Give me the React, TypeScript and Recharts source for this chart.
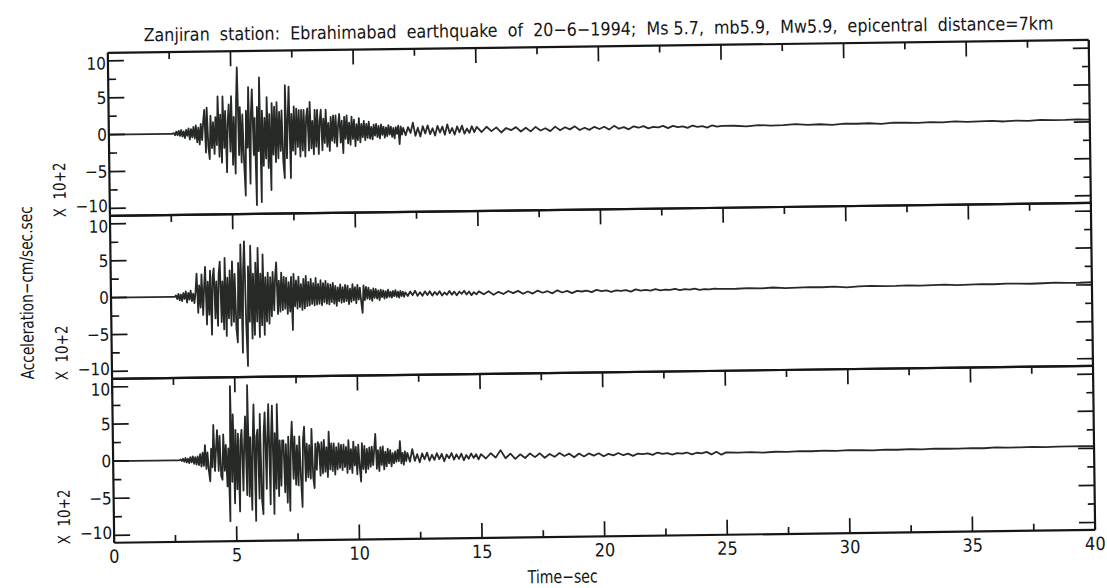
import React from 'react';
import { LineChart, Line, XAxis, YAxis } from 'recharts';

// ---- sample times (s) ----
const TIME_STRONG = [
  0,
  2.5, 2.55, 2.6, 2.65, 2.7, 2.75, 2.8, 2.85, 2.9, 2.95, 3, 3.05, 3.1, 3.15, 3.2, 3.25, 3.3, 3.35, 3.4, 3.45,
  3.5, 3.55, 3.6, 3.65, 3.7, 3.75, 3.8, 3.85, 3.9, 3.95, 4, 4.05, 4.1, 4.15, 4.2, 4.25, 4.3, 4.35, 4.4, 4.45,
  4.5, 4.55, 4.6, 4.65, 4.7, 4.75, 4.8, 4.85, 4.9, 4.95, 5, 5.05, 5.1, 5.15, 5.2, 5.25, 5.3, 5.35, 5.4, 5.45,
  5.5, 5.55, 5.6, 5.65, 5.7, 5.75, 5.8, 5.85, 5.9, 5.95, 6, 6.05, 6.1, 6.15, 6.2, 6.25, 6.3, 6.35, 6.4, 6.45,
  6.5, 6.55, 6.6, 6.65, 6.7, 6.75, 6.8, 6.85, 6.9, 6.95, 7, 7.05, 7.1, 7.15, 7.2, 7.25, 7.3, 7.35, 7.4, 7.45,
  7.5, 7.55, 7.6, 7.65, 7.7, 7.75, 7.8, 7.85, 7.9, 7.95, 8, 8.05, 8.1, 8.15, 8.2, 8.25, 8.3, 8.35, 8.4, 8.45,
  8.5, 8.55, 8.6, 8.65, 8.7, 8.75, 8.8, 8.85, 8.9, 8.95, 9, 9.05, 9.1, 9.15, 9.2, 9.25, 9.3, 9.35, 9.4, 9.45,
  9.5, 9.55, 9.6, 9.65, 9.7, 9.75, 9.8, 9.85, 9.9, 9.95, 10, 10.05, 10.1, 10.15, 10.2, 10.25, 10.3, 10.35, 10.4, 10.45,
  10.5, 10.55, 10.6, 10.65, 10.7, 10.75, 10.8, 10.85, 10.9, 10.95, 11, 11.05, 11.1, 11.15, 11.2, 11.25, 11.3, 11.35, 11.4, 11.45,
  11.5, 11.55, 11.6, 11.65, 11.7, 11.75, 11.8, 11.85, 11.9, 11.95, 12,
];
const TIME_CODA = [
  12.1, 12.2, 12.3, 12.4, 12.5, 12.6, 12.7, 12.8, 12.9, 13, 13.1, 13.2, 13.3, 13.4, 13.5, 13.6, 13.7, 13.8, 13.9, 14,
  14.1, 14.2, 14.3, 14.4, 14.5, 14.6, 14.7, 14.8, 14.9, 15,
  15.2, 15.4, 15.6, 15.8, 16, 16.2, 16.4, 16.6, 16.8, 17, 17.2, 17.4, 17.6, 17.8, 18, 18.2, 18.4, 18.6, 18.8, 19,
  19.2, 19.4, 19.6, 19.8, 20, 20.2, 20.4, 20.6, 20.8, 21, 21.2, 21.4, 21.6, 21.8, 22, 22.2, 22.4, 22.6, 22.8, 23,
  23.2, 23.4, 23.6, 23.8, 24, 24.2, 24.4, 24.6, 24.8, 25,
  25.5, 26, 26.5, 27, 27.5, 28, 28.5, 29, 29.5, 30, 30.5, 31, 31.5, 32, 32.5, 33, 33.5, 34, 34.5, 35,
  35.5, 36, 36.5, 37, 37.5, 38, 38.5, 39, 39.5, 40,
];

// ---- accelerations (x 10^2 cm/s/s), top trace ----
const ACC1_STRONG = [
  0,
  0, 0, 0, 0.1, -0.2, 0.3, -0.2, 0.4, -0.3, 0.5, -0.4, 0.3, -0.6, 0.5, -0.3, 0.7, -0.8, 0.6, -0.5, 0.9,
  -0.7, 1.1, -1.2, 0.8, -1.5, 1.3, -0.9, 1.6, 3.2, -2.6, 3.5, -1.8, -3.5, 2.4, -2.0, 1.5, -2.8, 2.2, -1.6, 5.0,
  -3.2, 2.5, -4.0, 5.0, -2.0, 3.0, -5.3, 1.5, 3.9, -2.5, 5.0, -4.3, 2.2, -5.5, 4.0, 8.9, -3.0, 3.5, -4.0, 2.5,
  -4.0, -8.5, 3.0, -2.0, 6.2, -6.9, 2.5, 5.9, -3.0, 2.0, -9.8, 3.5, -2.5, 7.5, -9.4, 3.0, -4.5, 2.0, -3.5, 4.8,
  -4.8, 2.5, -7.8, 4.0, -3.0, 3.5, -4.0, 4.1, -3.5, 2.8, -2.5, 3.0, -4.0, -6.2, 6.4, -3.5, 2.0, 6.2, -6.2, 2.5,
  -2.5, 3.5, -3.0, 3.2, -2.0, 3.0, -3.3, 3.0, -2.5, 3.0, -3.3, 2.0, 3.2, -2.5, 4.1, -2.2, 1.5, -3.0, 3.0, -2.0,
  3.0, -3.0, 1.5, 3.0, -2.5, 1.8, -1.5, 3.0, -2.0, 1.2, -2.6, 2.0, -1.2, 2.2, -1.5, 2.2, -2.0, 1.0, 2.4, -1.5,
  1.5, -2.9, 2.0, -1.0, 2.2, -1.6, 1.2, -1.8, 2.0, -1.0, 1.6, -2.0, 1.0, -1.2, 1.8, -1.5, 1.0, -0.8, 1.4, -1.2,
  1.0, -0.9, 1.3, -1.0, 0.6, -1.1, 0.9, -0.6, 1.0, -0.8, 0.7, -1.0, 0.9, -0.5, 0.6, -0.9, 0.5, -0.7, 0.8, -0.5,
  0.6, -0.8, 0.4, -1.0, 0.5, -0.4, 0.7, -1.8, 0.6, -0.5, 0.4,
];
const ACC1_CODA = [
  -0.6, 0.5, -0.3, 1.1, -0.7, 0.4, -0.8, 0.6, -0.4, 0.7, -0.5, 0.3, -0.7, 0.6, -0.3, 0.5, -0.6, 0.8, -0.4, 0.3,
  -0.6, 0.5, -0.3, 0.6, -0.5, 0.2, -0.4, 0.5, -0.3, 0.4,
  -0.3, 0.4, -0.2, 0.3, -0.4, 0.2, -0.1, 0.3, -0.3, 0.2, -0.3, 0.3, -0.2, 0.1, -0.3, 0.3, -0.2, 0.2, -0.1, 0.3,
  -0.2, 0.1, -0.2, 0.2, -0.1, 0.2, -0.2, 0.3, -0.1, 0.1, -0.2, 0.2, 0.0, 0.2, -0.1, 0.1, 0.0, 0.2, -0.1, 0.2,
  0.0, 0.1, -0.1, 0.2, 0.0, 0.1, -0.1, 0.2, 0.0, 0.1,
  0.1, 0.0, 0.15, 0.05, 0.1, 0.2, 0.1, 0.15, 0.05, 0.2, 0.15, 0.2, 0.1, 0.25, 0.2, 0.15, 0.25, 0.2, 0.3, 0.2,
  0.25, 0.3, 0.2, 0.3, 0.25, 0.35, 0.3, 0.3, 0.35, 0.3,
];

// ---- middle trace ----
const ACC2_STRONG = [
  0,
  0, 0, 0, 0.2, -0.3, 0.4, -0.5, 0.3, -0.6, 0.5, -0.3, 0.7, -0.8, 0.5, -0.4, 0.8, -0.6, 0.4, -0.9, 0.7,
  3.1, -2.2, 1.5, -1.5, 3.0, -2.5, 1.2, 4.0, -3.8, 2.0, -2.5, 3.5, -5.2, 2.5, 3.8, -3.0, 2.0, -4.0, 3.0, 4.7,
  -3.5, 2.0, -4.5, 5.2, -5.4, 2.5, -3.0, 3.5, -4.0, 4.7, -3.5, 3.0, -4.5, -6.3, 4.5, -3.0, 7.0, -7.7, 3.5, 7.4,
  -4.0, -9.5, 4.0, -3.5, 6.8, -5.8, 3.0, -5.3, 4.5, -3.5, 6.5, -5.6, 3.0, -4.0, 5.6, -5.3, 2.5, -3.5, 3.1, -3.8,
  2.5, -2.8, 3.2, -2.0, 2.5, 4.5, -2.5, 2.0, -2.2, 3.1, -2.0, 2.5, -1.8, 2.4, -2.5, 1.8, -2.2, 2.5, -4.7, 2.9,
  -1.5, 2.0, -1.8, 2.5, -1.6, 1.5, -2.0, 2.2, -1.8, 2.6, -1.5, 1.8, -1.4, 2.2, -1.2, 1.6, -1.4, 2.3, -1.3, 1.5,
  -1.2, 2.0, -1.4, 1.6, -1.0, 1.9, -1.2, 1.5, -1.3, 1.4, -1.0, 1.6, -1.2, 1.2, -1.5, 1.0, -0.9, 1.4, -1.1, 1.0,
  -1.0, 1.3, -0.9, 1.2, -1.3, 0.8, -1.0, 1.4, -0.8, 1.0, -1.2, 1.3, -0.7, 0.9, -1.0, -2.5, 1.2, -0.8, 1.0, -0.6,
  0.9, -0.7, 0.6, -0.9, 0.8, -0.5, 0.7, -0.6, 0.5, -0.8, 0.6, -0.4, 0.5, -0.6, 0.4, -0.5, 0.6, -0.4, 0.3, -0.5,
  0.4, -0.3, 0.5, -0.4, 0.3, -0.5, 0.4, -0.3, 0.3, -0.4, 0.2,
];
const ACC2_CODA = [
  -0.3, 0.3, -0.2, 0.4, -0.3, 0.2, -0.3, 0.3, -0.2, 0.3, -0.3, 0.2, -0.2, 0.3, -0.3, 0.1, -0.2, 0.3, -0.2, 0.2,
  -0.3, 0.2, -0.1, 0.3, -0.2, 0.2, -0.3, 0.1, -0.2, 0.2,
  -0.2, 0.2, -0.3, 0.1, -0.2, 0.2, -0.1, 0.2, -0.2, 0.1, -0.2, 0.2, -0.1, 0.1, -0.2, 0.2, -0.1, 0.1, -0.2, 0.1,
  0.0, 0.1, -0.1, 0.2, 0.0, 0.1, -0.1, 0.1, 0.0, 0.1, -0.1, 0.2, 0.0, 0.1, 0.0, 0.2, 0.0, 0.1, 0.05, 0.2,
  0.0, 0.15, 0.05, 0.2, 0.0, 0.1, 0.05, 0.15, 0.1, 0.1,
  0.1, 0.15, 0.1, 0.2, 0.1, 0.15, 0.2, 0.15, 0.2, 0.1, 0.2, 0.25, 0.2, 0.2, 0.25, 0.2, 0.25, 0.3, 0.2, 0.25,
  0.3, 0.25, 0.3, 0.3, 0.25, 0.3, 0.35, 0.3, 0.3, 0.35,
];

// ---- bottom trace ----
const ACC3_STRONG = [
  0,
  0, 0, 0, 0, 0, 0.1, -0.1, 0.2, -0.2, 0.3, -0.3, 0.2, -0.4, 0.4, -0.3, 0.5, -0.5, 0.4, -0.6, 0.5,
  -0.7, 0.8, -0.9, 1.0, -0.8, 2.0, -1.2, 1.0, -1.5, -2.9, 1.5, -1.0, 4.7, -1.5, 1.5, 4.0, -1.5, 3.2, -2.2, -2.7,
  3.4, -1.5, 2.0, -3.6, 1.5, -8.3, 9.9, -3.0, 6.1, -5.9, 4.0, -4.0, 3.5, -7.0, 2.5, 4.0, -4.2, 2.0, 5.8, -4.8,
  10.0, -5.0, 3.0, -6.8, 2.5, 7.4, -8.3, 3.0, 4.0, -5.3, 6.1, -5.4, -7.4, 3.5, 6.3, -4.0, 3.0, 7.4, -6.1, 3.0,
  7.2, -7.4, 3.5, -4.0, 7.4, -5.0, 2.5, -3.6, 2.5, 2.5, -4.5, 2.0, -5.9, 3.0, -7.0, 2.0, 5.0, -2.7, 3.0, -3.5,
  1.8, -3.6, 3.0, -2.5, -6.5, 2.5, 4.3, -3.0, 2.0, -2.5, 1.8, -2.7, 4.0, -2.5, -4.0, 2.0, -1.5, 2.2, 1.9, -2.3,
  2.2, -2.0, 2.5, -1.8, 1.5, -2.5, 3.6, -1.5, 2.0, -1.7, 2.0, -2.2, 1.5, -1.5, 2.0, -1.3, 1.8, -1.6, 1.8, -1.2,
  1.5, -2.0, 2.4, -1.5, 1.2, -2.0, 2.2, -1.0, 1.5, -2.2, 1.8, -1.2, -3.2, 2.0, -1.5, 1.6, -2.0, 1.2, -1.5, 1.4,
  -1.2, 1.5, -1.0, 1.2, 3.2, -1.5, 1.0, -1.8, 1.4, -1.0, 1.5, -1.6, 0.8, -1.2, 1.2, -0.8, 1.0, -1.2, 0.6, -0.8,
  0.8, -0.6, 1.0, -0.5, 2.2, -0.8, 0.6, -1.0, 0.8, -0.5, 0.6,
];
const ACC3_CODA = [
  -0.6, 1.1, -0.5, 0.4, -0.7, 0.5, -0.3, 0.6, -0.5, 0.3, -0.4, 0.5, -0.3, 0.4, -0.6, 0.3, -0.2, 0.5, -0.4, 0.3,
  -0.3, 0.4, -0.5, 0.2, -0.3, 0.4, -0.2, 0.3, -0.4, 0.3,
  -0.3, 0.4, -0.2, 0.8, -0.3, 0.3, -0.4, 0.2, -0.3, 0.3, -0.2, 0.3, -0.3, 0.2, -0.2, 0.3, -0.1, 0.2, -0.3, 0.2,
  -0.2, 0.2, -0.1, 0.2, -0.2, 0.1, -0.1, 0.2, -0.1, 0.1, -0.2, 0.1, 0.0, 0.1, -0.1, 0.2, 0.0, 0.1, -0.1, 0.1,
  0.0, 0.15, -0.1, 0.1, 0.0, 0.2, -0.15, 0.2, -0.2, 0.1,
  0.05, 0.1, 0.0, 0.1, 0.05, 0.15, 0.1, 0.15, 0.1, 0.2, 0.15, 0.1, 0.2, 0.15, 0.2, 0.15, 0.25, 0.2, 0.2, 0.25,
  0.2, 0.3, 0.25, 0.25, 0.3, 0.25, 0.3, 0.3, 0.3, 0.3,
];

const X_TICKS = [0, 2.5, 5, 7.5, 10, 12.5, 15, 17.5, 20, 22.5, 25, 27.5, 30, 32.5, 35, 37.5, 40];
const Y_TICKS = [-10, -7.5, -5, -2.5, 0, 2.5, 5, 7.5, 10];

const TITLE = 'Zanjiran  station:  Ebrahimabad  earthquake  of  20\u22126\u22121994;  Ms 5.7,  mb5.9,  Mw5.9,  epicentral  distance=7km';
const Y_TITLE = 'Acceleration\u2212cm/sec.sec';
const Y_UNIT = 'X  10+2';
const X_TITLE = 'Time\u2212sec';

// ---- layout ----
const W = 1107;
const H = 588;
const PLOT_L = 111;
const PLOT_R = 1092;
const PANEL_TOPS = [47, 210, 373];
const PANEL_H = [163, 163, 164];
const PAD = 10;
const BOTTOM_AXIS_H = 50;
const FONT = '"DejaVu Sans Condensed", "Liberation Sans Narrow", "DejaVu Sans", sans-serif';
const INK = '#161616';
const TRACE = '#262a26';

const fmt = (v: number) => (v < 0 ? '\u2212' + Math.abs(v) : String(v));
const isMajor = (v: number) => Math.abs(v % 5) < 1e-9;

function build(times: number[], vals: number[]) {
  const n = Math.min(times.length, vals.length);
  const out: { t: number; v: number }[] = [];
  for (let i = 0; i < n; i++) out.push({ t: times[i], v: vals[i] });
  return out;
}

function Panel({ idx, strong, coda }: { idx: number; strong: number[]; coda: number[] }) {
  const ph = PANEL_H[idx];
  const isBottom = idx === 2;
  const h = PAD + ph + (isBottom ? BOTTOM_AXIS_H : PAD);
  const plotTop = PAD;
  const plotBottom = PAD + ph;
  const data = [...build(TIME_STRONG, strong), ...build(TIME_CODA, coda)];

  const topTick = (p: any) => {
    const len = isMajor(p.payload.value) ? 15 : 7;
    return <line x1={p.x} x2={p.x} y1={plotTop} y2={plotTop + len} stroke={INK} strokeWidth={1.7} />;
  };
  const bottomTick = (p: any) => {
    const major = isMajor(p.payload.value);
    const len = major ? 15 : 7;
    return (
      <g>
        <line x1={p.x} x2={p.x} y1={plotBottom} y2={plotBottom - len} stroke={INK} strokeWidth={1.7} />
        {major ? (
          <text x={p.x} y={plotBottom + 20} textAnchor="middle" fontSize={18} fontFamily={FONT} fill={INK}>
            {fmt(p.payload.value)}
          </text>
        ) : null}
      </g>
    );
  };
  const leftTick = (p: any) => {
    const v = p.payload.value;
    const major = isMajor(v);
    const len = major ? 16 : 8;
    // the +/-10 labels of neighbouring panels crowd each other; nudge them inward a little
    const nudge = v === 10 ? 2.5 : v === -10 ? -2.5 : 0;
    return (
      <g>
        <line x1={PLOT_L} x2={PLOT_L + len} y1={p.y} y2={p.y} stroke={INK} strokeWidth={1.7} />
        {major ? (
          <text x={PLOT_L - 2} y={p.y + 6 + nudge} textAnchor="end" fontSize={17} fontFamily={FONT} fill={INK}>
            {fmt(v)}
          </text>
        ) : null}
      </g>
    );
  };
  const rightTick = (p: any) => {
    const len = isMajor(p.payload.value) ? 16 : 7;
    return <line x1={PLOT_R} x2={PLOT_R - len} y1={p.y} y2={p.y} stroke={INK} strokeWidth={1.7} />;
  };

  const axisLine = { stroke: INK, strokeWidth: 2.2 };
  return (
    <div style={{ position: 'absolute', left: 0, top: PANEL_TOPS[idx] - PAD }}>
      <LineChart
        width={W}
        height={h}
        data={data}
        margin={{ top: PAD, right: W - PLOT_R - 10, bottom: isBottom ? 0 : PAD, left: PLOT_L - 60 }}
      >
        <XAxis
          xAxisId="b"
          dataKey="t"
          type="number"
          domain={[0, 40]}
          ticks={X_TICKS}
          interval={0}
          allowDataOverflow
          orientation="bottom"
          mirror={!isBottom}
          height={isBottom ? BOTTOM_AXIS_H : 2}
          axisLine={axisLine}
          tickLine={false}
          tickSize={0}
          tickMargin={0}
          tick={isBottom ? bottomTick : false}
        />
        <XAxis
          xAxisId="t"
          dataKey="t"
          type="number"
          domain={[0, 40]}
          ticks={X_TICKS}
          interval={0}
          allowDataOverflow
          orientation="top"
          mirror
          height={2}
          axisLine={axisLine}
          tickLine={false}
          tickSize={0}
          tickMargin={0}
          tick={topTick}
        />
        <YAxis
          yAxisId="l"
          type="number"
          domain={[-11, 11.1]}
          ticks={Y_TICKS}
          interval={0}
          allowDataOverflow
          orientation="left"
          width={60}
          axisLine={axisLine}
          tickLine={false}
          tickSize={0}
          tickMargin={0}
          tick={leftTick}
        />
        <YAxis
          yAxisId="r"
          type="number"
          domain={[-11, 11.1]}
          ticks={Y_TICKS}
          interval={0}
          allowDataOverflow
          orientation="right"
          width={10}
          axisLine={axisLine}
          tickLine={false}
          tickSize={0}
          tickMargin={0}
          tick={rightTick}
        />
        <Line
          xAxisId="b"
          yAxisId="l"
          dataKey="v"
          type="linear"
          stroke={TRACE}
          strokeWidth={1.8}
          strokeLinejoin="round"
          dot={false}
          activeDot={false}
          isAnimationActive={false}
        />
      </LineChart>
    </div>
  );
}

export default function App() {
  const labelProps = { fontFamily: FONT, fill: INK };
  return (
    <div
      style={{
        position: 'absolute',
        left: 0,
        top: 0,
        width: W,
        height: H,
        background: '#fff',
        overflow: 'visible',
        transform: 'rotate(-0.75deg)',
        transformOrigin: '553px 294px',
      }}
    >
      <Panel idx={0} strong={ACC1_STRONG} coda={ACC1_CODA} />
      <Panel idx={1} strong={ACC2_STRONG} coda={ACC2_CODA} />
      <Panel idx={2} strong={ACC3_STRONG} coda={ACC3_CODA} />
      <svg width={W} height={H} style={{ position: 'absolute', left: 0, top: 0, pointerEvents: 'none' }}>
        <text x={147} y={36} fontSize={18} textLength={910} lengthAdjust="spacingAndGlyphs" style={{ whiteSpace: 'pre' }} {...labelProps}>
          {TITLE}
        </text>
        <text
          transform="translate(33, 286) rotate(-90)"
          textAnchor="middle"
          fontSize={18}
          textLength={173}
          lengthAdjust="spacingAndGlyphs"
          {...labelProps}
        >
          {Y_TITLE}
        </text>
        {PANEL_TOPS.map((top, i) => (
          <text
            key={i}
            transform={`translate(67, ${top + PANEL_H[i] + 1}) rotate(-90)`}
            textAnchor="start"
            fontSize={17}
            textLength={55}
            lengthAdjust="spacingAndGlyphs"
            style={{ whiteSpace: 'pre' }}
            {...labelProps}
          >
            {Y_UNIT}
          </text>
        ))}
        <text x={559} y={583} textAnchor="middle" fontSize={18} textLength={70} lengthAdjust="spacingAndGlyphs" {...labelProps}>
          {X_TITLE}
        </text>
      </svg>
    </div>
  );
}
